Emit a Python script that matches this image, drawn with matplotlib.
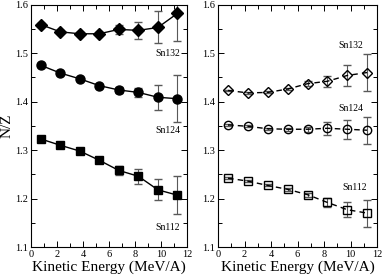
import numpy as np
import matplotlib.pyplot as plt
from matplotlib.ticker import MultipleLocator

plt.rcParams['font.family'] = ['Liberation Serif', 'DejaVu Serif']

# kinetic energy bins (MeV/A)
energy = [0.75, 2.25, 3.75, 5.25, 6.75, 8.25, 9.75, 11.25]

# left panel
sn132_a = [1.559, 1.544, 1.540, 1.540, 1.549, 1.547, 1.553, 1.582]
sn132_a_err = [0.003, 0.003, 0.003, 0.003, 0.010, 0.018, 0.033, 0.057]
sn124_a = [1.475, 1.459, 1.447, 1.433, 1.424, 1.419, 1.409, 1.406]
sn124_a_err = [0.002, 0.002, 0.002, 0.003, 0.007, 0.010, 0.026, 0.048]
sn112_a = [1.323, 1.310, 1.298, 1.279, 1.258, 1.246, 1.218, 1.207]
sn112_a_err = [0.002, 0.002, 0.002, 0.003, 0.009, 0.015, 0.022, 0.039]

# right panel
sn132_b = [1.423, 1.418, 1.419, 1.426, 1.437, 1.442, 1.454, 1.460]
sn132_b_err = [0.002, 0.002, 0.002, 0.003, 0.005, 0.011, 0.022, 0.039]
sn124_b = [1.352, 1.349, 1.344, 1.343, 1.343, 1.345, 1.343, 1.341]
sn124_b_err = [0.002, 0.002, 0.002, 0.003, 0.005, 0.013, 0.020, 0.028]
sn112_b = [1.242, 1.236, 1.227, 1.219, 1.208, 1.192, 1.177, 1.170]
sn112_b_err = [0.002, 0.002, 0.002, 0.003, 0.004, 0.009, 0.016, 0.028]

fig = plt.figure(figsize=(3.82, 2.76), dpi=100)
ax1 = fig.add_axes([0.081, 0.105, 0.409, 0.878])
ax2 = fig.add_axes([0.571, 0.105, 0.416, 0.878])


def panel(ax, series, ls, filled):
    for y, e, m, ms in series:
        ax.errorbar(energy, y, yerr=e, fmt=m, ls=ls, color='k', lw=1.0,
                    ms=ms, mfc='k' if filled else 'none', mew=1.0,
                    ecolor='0.35', elinewidth=0.8, capsize=3, capthick=0.8)
    ax.set_xlim(0, 12)
    ax.set_ylim(1.1, 1.6)
    ax.xaxis.set_major_locator(MultipleLocator(2))
    ax.xaxis.set_minor_locator(MultipleLocator(1))
    ax.yaxis.set_major_locator(MultipleLocator(0.1))
    ax.yaxis.set_minor_locator(MultipleLocator(0.05))
    ax.tick_params(which='both', direction='in', top=True, right=True,
                   labelsize=7.5, pad=2)
    ax.tick_params(which='major', length=4.5, width=0.7)
    ax.tick_params(which='minor', length=3, width=0.7)
    ax.set_xlabel('Kinetic Energy (MeV/A)', fontsize=11, labelpad=1)
    for s in ax.spines.values():
        s.set_linewidth(0.8)


panel(ax1, [(sn132_a, sn132_a_err, 'D', 6),
            (sn124_a, sn124_a_err, 'o', 6.5),
            (sn112_a, sn112_a_err, 's', 6)], '-', True)
panel(ax2, [(sn132_b, sn132_b_err, 'D', 5.5),
            (sn124_b, sn124_b_err, 'o', 6),
            (sn112_b, sn112_b_err, 's', 5.5)], (0, (4, 3)), False)

ax1.set_ylabel('N/Z', fontsize=11, labelpad=1)

ax1.text(10.5, 1.50, 'Sn132', fontsize=7, ha='center', va='center')
ax1.text(10.5, 1.34, 'Sn124', fontsize=7, ha='center', va='center')
ax1.text(10.5, 1.141, 'Sn112', fontsize=7, ha='center', va='center')
ax2.text(10.0, 1.515, 'Sn132', fontsize=7, ha='center', va='center')
ax2.text(10.0, 1.385, 'Sn124', fontsize=7, ha='center', va='center')
ax2.text(10.3, 1.223, 'Sn112', fontsize=7, ha='center', va='center')

fig.savefig('out.png', dpi=100)
